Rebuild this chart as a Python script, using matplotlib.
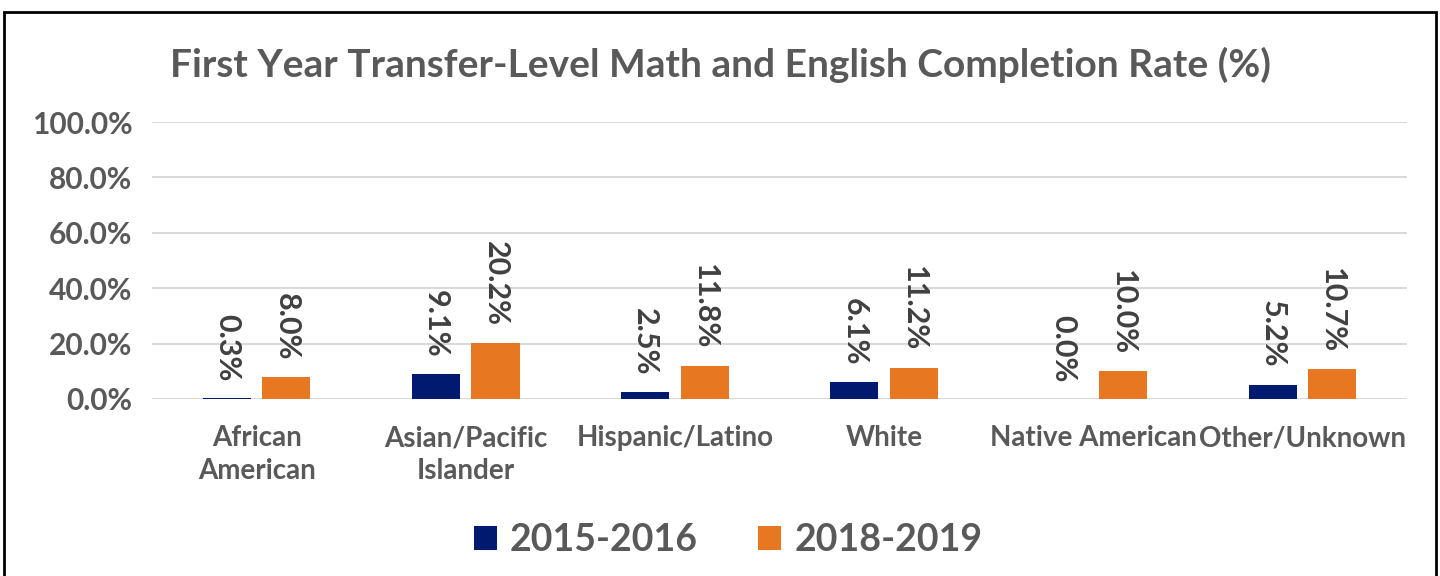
import matplotlib
matplotlib.use("Agg")
import matplotlib.pyplot as plt
from matplotlib.patches import Rectangle
import numpy as np

categories = ["African\nAmerican", "Asian/Pacific\nIslander", "Hispanic/Latino", "White",
              "Native American", "Other/Unknown"]
series_names = ["2015-2016", "2018-2019"]
vals_2015 = [0.3, 9.1, 2.5, 6.1, 0.0, 5.2]
vals_2018 = [8.0, 20.2, 11.8, 11.2, 10.0, 10.7]
yticks = [0, 20, 40, 60, 80, 100]

colors = ["#001a70", "#e87722"]
grey = "#595959"
plt.rcParams['font.family'] = ['Lato', 'DejaVu Sans']

fig = plt.figure(figsize=(14.4, 5.76), dpi=100)
W, H = 1440, 576
ax = fig.add_axes([152 / W, 1 - 399 / H, (1407 - 152) / W, (399 - 122) / H])

x = np.arange(len(categories))
bw = 0.23
off = 0.142
for vals, c, o, name in [(vals_2015, colors[0], -off, series_names[0]),
                         (vals_2018, colors[1], off, series_names[1])]:
    bars = ax.bar(x + o, vals, bw, color=c, label=name, zorder=3)
    for b, v in zip(bars, vals):
        ax.annotate(f"{v:.1f}%", (b.get_x() + b.get_width() / 2, v),
                    xytext=(0, 12), textcoords="offset points",
                    rotation=270, ha="center", va="bottom",
                    fontsize=22, fontweight="bold", color="#404040")

ax.set_xlim(-0.5, len(categories) - 0.5)
ax.set_ylim(0, 100)
ax.set_yticks(yticks)
ax.set_yticklabels([f"{t:.1f}%" for t in yticks])
ax.set_xticks(x)
ax.set_xticklabels(categories, linespacing=1.3)
ax.tick_params(axis="y", length=0, labelsize=21.5, labelcolor=grey, pad=14)
ax.tick_params(axis="x", length=0, labelsize=20, labelcolor=grey, pad=19)
for lab in ax.get_xticklabels() + ax.get_yticklabels():
    lab.set_fontweight("bold")
ax.grid(axis="y", color="#d9d9d9", linewidth=1.5, zorder=0)
for s in ax.spines.values():
    s.set_visible(False)

fig.text(720 / W, 1 - 65 / H, "First Year Transfer-Level Math and English Completion Rate (%)",
         ha="center", va="center", fontsize=28, fontweight="bold", color=grey)

leg = fig.legend(loc="center", bbox_to_anchor=(728 / W, 1 - 540 / H), ncol=2, frameon=False,
                 prop={"size": 27, "weight": "bold"}, handlelength=0.62, handleheight=0.62,
                 handletextpad=0.35, columnspacing=1.6)
for t in leg.get_texts():
    t.set_color(grey)

fig.patches.append(Rectangle((4 / W, -0.01), (1436 - 4) / W, 1 - 12 / H + 0.01,
                             transform=fig.transFigure, fill=False,
                             edgecolor="black", linewidth=2))

fig.savefig("out.png", dpi=100)
